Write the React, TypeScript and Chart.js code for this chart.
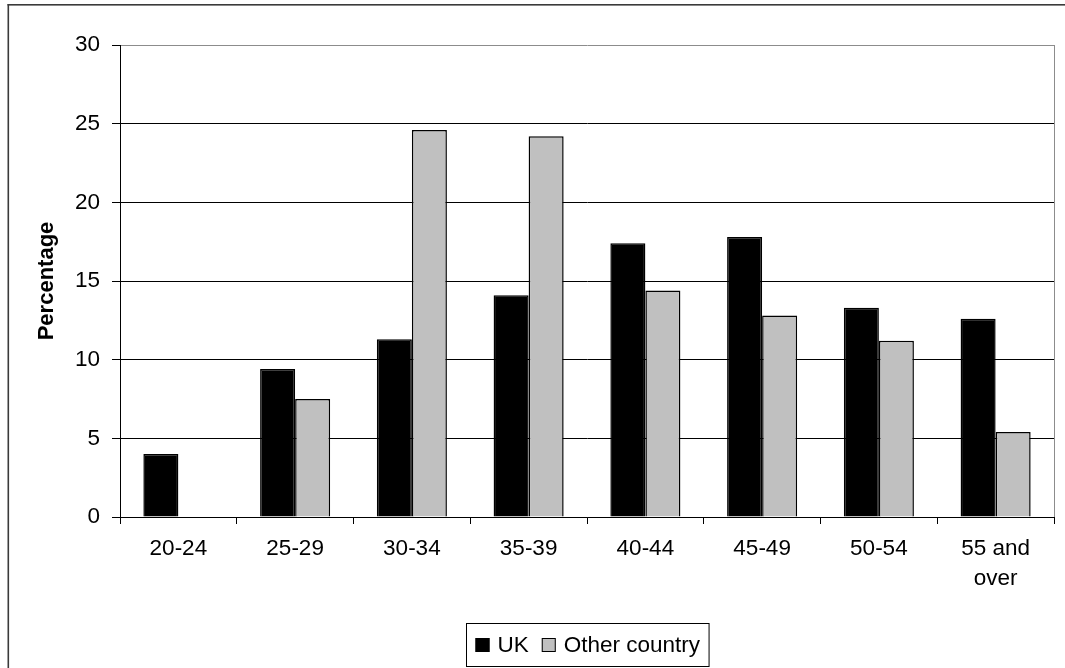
import { useEffect, useRef } from 'react';
import { Chart, registerables } from 'chart.js';

Chart.register(...registerables);

const categories: (string | string[])[] = ['20-24', '25-29', '30-34', '35-39', '40-44', '45-49', '50-54', ['55 and', 'over']];
const ukValues = [4.0, 9.4, 11.3, 14.1, 17.4, 17.8, 13.3, 12.6];
const otherValues = [0, 7.5, 24.6, 24.2, 14.4, 12.8, 11.2, 5.4];
const seriesNames = ['UK', 'Other country'];
const seriesColors = ['#000000', '#c0c0c0'];
const yMin = 0;
const yMax = 30;
const yStep = 5;

const FONT = "'Liberation Sans', Arial, Helvetica, sans-serif";

const framePlugin = {
  id: 'frameAndLegend',
  beforeDraw(chart: any) {
    const ctx = chart.ctx;
    ctx.save();
    ctx.fillStyle = '#ffffff';
    ctx.fillRect(0, 0, chart.width, chart.height);
    ctx.fillStyle = '#3a3a3a';
    ctx.fillRect(7.5, 4, chart.width, 1.6);
    ctx.fillRect(7.5, 4, 1.6, chart.height);
    ctx.restore();
  },
  afterDraw(chart: any) {
    const ctx = chart.ctx;
    const area = chart.chartArea;
    ctx.save();
    // gray right border of plot area
    ctx.strokeStyle = '#8c8c8c';
    ctx.lineWidth = 1;
    ctx.beginPath();
    ctx.moveTo(Math.round(area.right) + 0.5, area.top);
    ctx.lineTo(Math.round(area.right) + 0.5, area.bottom);
    ctx.stroke();

    // legend
    ctx.font = `22.5px ${FONT}`;
    const sq = 14;
    const gapText = 8;
    const gapItem = 13;
    const padX = 9;
    const widths = chart.data.datasets.map((d: any) => ctx.measureText(d.label).width);
    let total = 0;
    widths.forEach((w: number, i: number) => {
      total += sq + gapText + w + (i < widths.length - 1 ? gapItem : 0);
    });
    const boxW = total + padX * 2;
    const cx = (area.left + area.right) / 2;
    const boxX = Math.round(cx - boxW / 2) + 0.5;
    const boxY = 623.5;
    const boxH = 43;
    ctx.strokeStyle = '#000';
    ctx.lineWidth = 1;
    ctx.strokeRect(boxX, boxY, boxW, boxH);
    let x = boxX + padX;
    const midY = boxY + boxH / 2;
    chart.data.datasets.forEach((d: any, i: number) => {
      ctx.fillStyle = d.backgroundColor;
      ctx.fillRect(x, midY - sq / 2, sq, sq);
      ctx.strokeStyle = '#000';
      ctx.strokeRect(x + 0.5, midY - sq / 2 + 0.5, sq - 1, sq - 1);
      ctx.fillStyle = '#000';
      ctx.textBaseline = 'middle';
      ctx.textAlign = 'left';
      ctx.fillText(d.label, x + sq + gapText, midY + 1);
      x += sq + gapText + widths[i] + gapItem;
    });
    ctx.restore();
  },
};

export default function App() {
  const ref = useRef<HTMLCanvasElement | null>(null);

  useEffect(() => {
    if (!ref.current) return;
    Chart.defaults.font.family = FONT;
    Chart.defaults.color = '#000';
    const chart = new Chart(ref.current, {
      type: 'bar',
      data: {
        labels: categories,
        datasets: [
          {
            label: seriesNames[0],
            data: ukValues,
            backgroundColor: seriesColors[0],
            borderColor: '#000',
            borderWidth: 1.5,
            categoryPercentage: 0.6,
            barPercentage: 1,
          },
          {
            label: seriesNames[1],
            data: otherValues,
            backgroundColor: seriesColors[1],
            borderColor: '#000',
            borderWidth: 1.5,
            categoryPercentage: 0.6,
            barPercentage: 1,
          },
        ],
      },
      options: {
        animation: false,
        responsive: false,
        maintainAspectRatio: false,
        devicePixelRatio: 1,
        layout: { padding: { top: 45, right: 11, left: 0, bottom: 0 } },
        plugins: {
          legend: { display: false },
          tooltip: { enabled: false },
        },
        scales: {
          x: {
            offset: true,
            grid: {
              display: true,
              drawOnChartArea: false,
              drawTicks: true,
              tickLength: 7,
              color: '#000',
              offset: true,
            },
            border: { color: '#000', width: 1 },
            ticks: {
              color: '#000',
              font: { size: 22.5, lineHeight: 1.34 },
              padding: 10,
              maxRotation: 0,
              autoSkip: false,
            },
            afterFit: (s: any) => {
              s.height = 151;
            },
          },
          y: {
            min: yMin,
            max: yMax,
            ticks: { stepSize: yStep, color: '#000', font: { size: 22.5 }, padding: 12 },
            grid: {
              color: (c: any) => (c.tick && c.tick.value === yMax ? '#8c8c8c' : '#000'),
              lineWidth: 1,
              tickLength: 8,
              tickColor: '#000',
            },
            border: { color: '#000', width: 1 },
            title: {
              display: true,
              text: 'Percentage',
              color: '#000',
              font: { size: 22, weight: 'bold' },
              padding: { top: 34, bottom: 0 },
            },
            afterFit: (s: any) => {
              s.width = 120;
            },
          },
        },
      } as any,
      plugins: [framePlugin],
    });
    return () => chart.destroy();
  }, []);

  return (
    <div style={{ position: 'fixed', left: 0, top: 0, width: 1065, height: 668, background: '#fff' }}>
      <canvas ref={ref} width={1065} height={668} style={{ display: 'block', width: 1065, height: 668 }} />
    </div>
  );
}
